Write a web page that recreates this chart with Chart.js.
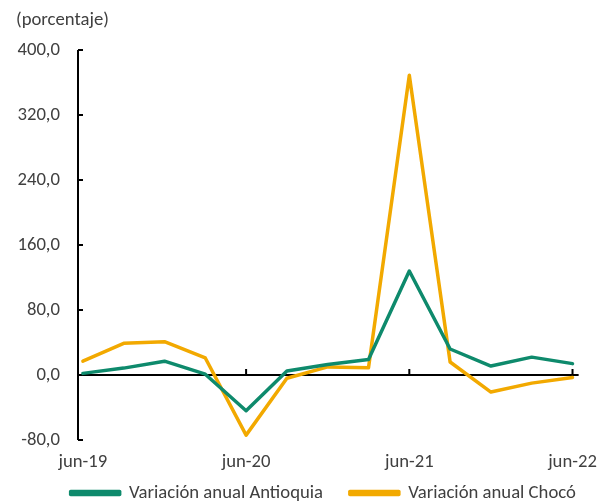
<!DOCTYPE html>
<html>
<head>
<meta charset="utf-8">
<script src="https://cdn.jsdelivr.net/npm/chart.js@4"></script>
<style>
  html, body { margin: 0; padding: 0; background: #fff; }
  #wrap { width: 608px; height: 504px; }
</style>
</head>
<body>
<div id="wrap"><canvas id="chart" width="608" height="504"></canvas></div>
<script>
// quarters, jun-19 .. jun-22
const quarters = ['jun-19','sep-19','dic-19','mar-20','jun-20','sep-20','dic-20',
  'mar-21','jun-21','sep-21','dic-21','mar-22','jun-22'];
const antioquia = [2, 8.5, 17, 1, -44, 5, 13, 19, 128, 32, 11, 22, 14];
const choco = [17, 39, 41, 21, -74, -4, 10, 9, 369, 16, -21, -10, -3];
const xTicks = [0, 4, 8, 12];
const yTicks = [-80, 0, 80, 160, 240, 320, 400];

const txt = '#404040';
const font = { family: 'Carlito, Lato, sans-serif', size: 18.7 };

// format 80 -> "80,0"
function fmt(v) {
  return v.toFixed(1).replace('.', ',');
}

function pts(arr) {
  return arr.map((v, i) => ({ x: i, y: v }));
}

// axis lines + inward ticks, drawn under the lines
const axesPlugin = {
  id: 'axes',
  beforeDatasetsDraw(chart) {
    const { ctx, chartArea: a, scales: { x, y } } = chart;
    const y0 = y.getPixelForValue(0);
    ctx.save();
    ctx.strokeStyle = '#000';
    ctx.lineWidth = 2;
    ctx.beginPath();
    ctx.moveTo(a.left, a.top);
    ctx.lineTo(a.left, a.bottom);
    ctx.moveTo(a.left, y0);
    ctx.lineTo(a.right, y0);
    yTicks.forEach(v => {
      const py = y.getPixelForValue(v);
      ctx.moveTo(a.left, py);
      ctx.lineTo(a.left + 5, py);
    });
    xTicks.slice(1).forEach(v => {
      const px = x.getPixelForValue(v);
      ctx.moveTo(px, y0);
      ctx.lineTo(px, y0 - 6);
    });
    ctx.stroke();
    ctx.restore();
  }
};

new Chart(document.getElementById('chart'), {
  type: 'line',
  data: {
    datasets: [
      // em space at the end widens the gap to the next legend item
      { label: 'Variación anual Antioquia\u2003', data: pts(antioquia),
        borderColor: '#0E8A6C', backgroundColor: '#0E8A6C' },
      { label: 'Variación anual Chocó', data: pts(choco),
        borderColor: '#F2A900', backgroundColor: '#F2A900' }
    ]
  },
  options: {
    responsive: false,
    animation: false,
    layout: { padding: { left: 16, right: 24, top: 0, bottom: 0 } },
    elements: {
      line: { borderWidth: 3.5, tension: 0, borderJoinStyle: 'round', borderCapStyle: 'round' },
      point: { radius: 0 }
    },
    scales: {
      x: {
        type: 'linear',
        min: -0.12,
        max: 12.15,
        afterBuildTicks: s => { s.ticks = xTicks.map(v => ({ value: v })); },
        afterFit: s => { s.height = 35.5; },
        grid: { display: false, drawTicks: false },
        border: { display: false },
        ticks: { padding: 10.8, color: txt, font, maxRotation: 0,
          callback: v => quarters[v] }
      },
      y: {
        min: -80,
        max: 400,
        afterBuildTicks: s => { s.ticks = yTicks.map(v => ({ value: v })); },
        afterFit: s => { s.width = 62; },
        grid: { display: false, drawTicks: false },
        border: { display: false },
        ticks: { padding: 18, color: txt, font, callback: v => fmt(v) }
      }
    },
    plugins: {
      title: {
        display: true,
        text: '(porcentaje)',
        align: 'start',
        color: txt,
        font: { ...font, weight: 'normal' },
        padding: { top: 8.8, bottom: 18.8 }
      },
      legend: {
        position: 'bottom',
        align: 'end',
        maxHeight: 28.5,
        labels: { boxWidth: 49, boxHeight: 3, padding: 8.15, color: txt, font }
      },
      tooltip: { enabled: false }
    }
  },
  plugins: [axesPlugin]
});
</script>
</body>
</html>
